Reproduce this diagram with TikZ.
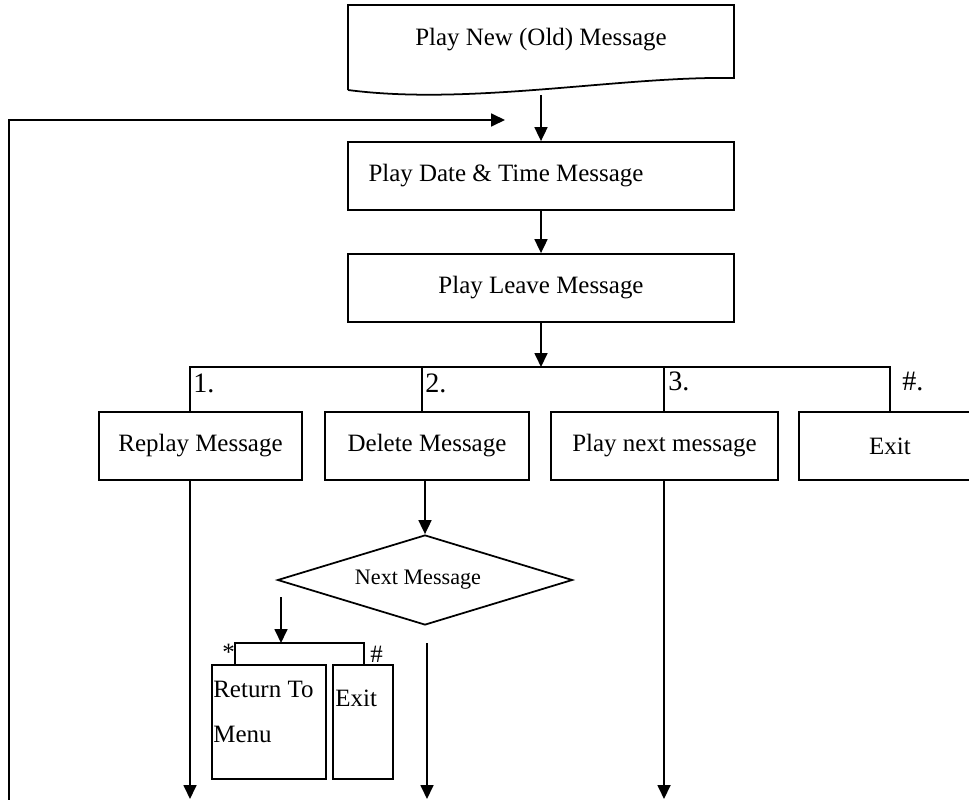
\documentclass[tikz,border=0pt]{standalone}
\usepackage{fontspec}
\setmainfont{Liberation Serif}
\usetikzlibrary{arrows.meta,shapes.geometric}
\newcommand\pxu{0.02cm}
\tikzset{
	ln/.style={line width=1pt},
	arr/.style={line width=1pt, -{Triangle[length=0.28cm,width=0.26cm]}},
	box/.style={draw, line width=1pt, rectangle, inner sep=0pt, font=\fontsize{14.2}{17}\selectfont},
	txt/.style={inner sep=0pt, font=\fontsize{14.2}{17}\selectfont},
	lbl/.style={inner sep=0pt, anchor=west, font=\fontsize{16}{19}\selectfont},
}

\begin{document}
\begin{tikzpicture}[x=0.02cm, y=-0.02cm]
			%%%%% START %%%%%
			\useasboundingbox (0,0) rectangle (969,800);
			\clip (0,0) rectangle (969,800);
			
			\draw[ln] (348,90) -- (348,5) -- (734,5) -- (734,78) .. controls (620,76) and (470,106) .. (348,90);
			\node[txt] (play) at (541,40) {Play New (Old) Message};
			\coordinate (docbot) at (541,95);
			
			\node[box, minimum width=386*\pxu, minimum height=68*\pxu, text width=345*\pxu, align=flush left] (date) at (541,176) {Play Date \& Time Message};
			\node[box, minimum width=386*\pxu, minimum height=68*\pxu] (leave) at (541,288) {Play Leave Message};
			
			\draw[arr] (docbot) -- (date.north);
			\draw[arr] (date.south) -- (leave.north);
			
			\coordinate (f0) at (9,800);
			\coordinate (f1) at (9,120);
			\coordinate (f2) at (505,120);
			\draw[arr] (f0) -- (f1) -- (f2);
			
			\node[box, minimum width=203*\pxu, minimum height=68*\pxu] (rep) at (200.5,446) {Replay Message};
			\node[box, minimum width=204*\pxu, minimum height=68*\pxu] (del) at (427,446) {Delete Message};
			\node[box, minimum width=227*\pxu, minimum height=68*\pxu] (nxt) at (664.5,446) {Play next message};
			\node[box, minimum width=182*\pxu, minimum height=68*\pxu] (ext) at (890,446) {Exit};
			
			\coordinate (bus) at (541,367);
			\coordinate (b1) at (190,367);
			\coordinate (b2) at (422,367);
			\coordinate (b3) at (664,367);
			\coordinate (b4) at (890,367);
			\draw[arr] (leave.south) -- (bus);
			\draw[ln] (b1 |- rep.north) -- (b1) -- (b4) -- (ext.north);
			\draw[ln] (b2) -- (b2 |- del.north);
			\draw[ln] (b3) -- (b3 |- nxt.north);
			
			\node[lbl] (l1) at (193,383) {1.};
			\node[lbl] (l2) at (425,383) {2.};
			\node[lbl] (l3) at (668,381) {3.};
			\node[lbl] (l4) at (902,381) {\#.};
			
			\node[draw, diamond, line width=1pt, inner sep=0pt, shape aspect=3.3, minimum width=295*\pxu, minimum height=90*\pxu] (dia) at (425,580) {};
			\node[inner sep=0pt, font=\fontsize{12.6}{15}\selectfont] (diatxt) at (418,580) {Next Message};
			\draw[arr] (dia.north |- del.south) -- (dia.north);
			
			\coordinate (e1) at (190,799);
			\coordinate (e2) at (427,799);
			\coordinate (e3) at (664,799);
			\coordinate (d0) at (427,643);
			\draw[arr] (e1 |- rep.south) -- (e1);
			\draw[arr] (d0) -- (e2);
			\draw[arr] (e3 |- nxt.south) -- (e3);
			
			\coordinate (s0) at (281,597);
			\coordinate (s1) at (281,643);
			\draw[arr] (s0) -- (s1);
			
			\node[box, minimum width=114*\pxu, minimum height=114*\pxu] (ret) at (269,722) {};
			\node[box, minimum width=60*\pxu, minimum height=114*\pxu] (ex2) at (363,722) {};
			\node[txt, anchor=west, align=left, font=\fontsize{14.2}{25.5}\selectfont] (rettxt) at (213,712) {Return To\\Menu};
			\node[txt, anchor=west] (ex2txt) at (335,698) {Exit};
			
			\coordinate (c1) at (235,643);
			\coordinate (c2) at (364,643);
			\draw[ln] (c1 |- ret.north) -- (c1) -- (c2) -- (c2 |- ex2.north);
			\node[txt, anchor=west] (star) at (222,652) {*};
			\node[txt, anchor=west] (hash) at (370,654) {\#};
			
			%%%%% END %%%%%
\end{tikzpicture}
\end{document}
